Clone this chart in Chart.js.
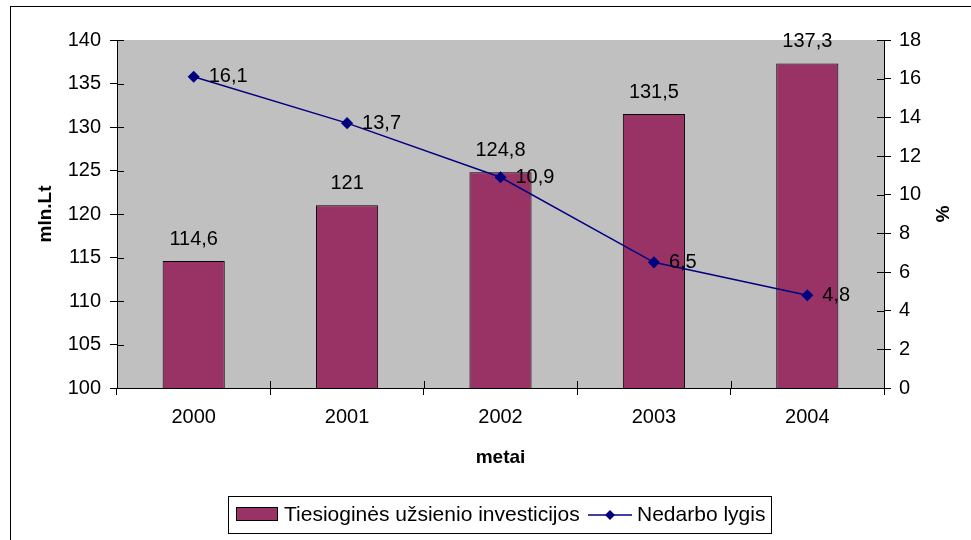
<!DOCTYPE html>
<html>
<head>
<meta charset="utf-8">
<script src="https://cdn.jsdelivr.net/npm/chart.js@4"></script>
<style>
  html, body { margin: 0; padding: 0; background: #fff; }
  #wrap { position: relative; width: 971px; height: 540px; }
</style>
</head>
<body>
<div id="wrap"><canvas id="myChart" width="971" height="540"></canvas></div>
<script>
// data
const years = ['2000', '2001', '2002', '2003', '2004'];
const investicijos = [114.6, 121, 124.8, 131.5, 137.3];
const nedarbas = [16.1, 13.7, 10.9, 6.5, 4.8];
const seriesNames = ['Tiesioginės užsienio investicijos', 'Nedarbo lygis'];

const FONT = '"Liberation Sans", Arial, sans-serif';
const BAR_COLOR = '#993366';
const LINE_COLOR = '#000080';
const PLOT_BG = '#C0C0C0';

const fmt = v => String(v).replace('.', ',');

// grey plot area + outer frame
const backdrop = {
    id: 'backdrop',
    beforeDraw(chart) {
        const { ctx, chartArea: a } = chart;
        ctx.save();
        ctx.fillStyle = '#fff';
        ctx.fillRect(0, 0, chart.width, chart.height);
        ctx.fillStyle = PLOT_BG;
        ctx.fillRect(a.left, a.top, a.right - a.left, a.bottom - a.top);
        ctx.strokeStyle = '#000';
        ctx.lineWidth = 1;
        ctx.strokeRect(10.5, 6.5, 1000, 600);
        ctx.restore();
    }
};

// value labels + inner halves of the crossing ticks
const labels = {
    id: 'labels',
    afterDatasetsDraw(chart) {
        const { ctx, chartArea: a, scales } = chart;
        ctx.save();
        ctx.strokeStyle = '#000';
        ctx.lineWidth = 1;
        ctx.beginPath();
        scales.y.ticks.forEach(t => {
            const py = Math.round(scales.y.getPixelForValue(t.value)) + 0.5;
            ctx.moveTo(a.left, py); ctx.lineTo(a.left + 7, py);
        });
        scales.y1.ticks.forEach(t => {
            const py = Math.round(scales.y1.getPixelForValue(t.value)) + 0.5;
            ctx.moveTo(a.right, py); ctx.lineTo(a.right - 7, py);
        });
        const step = (a.right - a.left) / years.length;
        for (let i = 0; i <= years.length; i++) {
            const px = Math.round(a.left + i * step) + 0.5;
            ctx.moveTo(px, a.bottom); ctx.lineTo(px, a.bottom - 7);
        }
        ctx.stroke();

        ctx.fillStyle = '#000';
        ctx.font = '20px ' + FONT;
        chart.getDatasetMeta(0).data.forEach((bar, i) => {
            ctx.textAlign = 'center';
            ctx.textBaseline = 'alphabetic';
            ctx.fillText(fmt(investicijos[i]), bar.x, bar.y - 16);
        });
        chart.getDatasetMeta(1).data.forEach((pt, i) => {
            ctx.textAlign = 'left';
            ctx.textBaseline = 'middle';
            ctx.fillText(fmt(nedarbas[i]), pt.x + 15, pt.y);
        });
        ctx.restore();
    }
};

// boxed legend under the chart
const boxLegend = {
    id: 'boxLegend',
    afterDraw(chart) {
        const { ctx } = chart;
        ctx.save();
        ctx.strokeStyle = '#000';
        ctx.lineWidth = 1;
        ctx.strokeRect(228.5, 496.5, 543, 37);
        ctx.fillStyle = BAR_COLOR;
        ctx.fillRect(236, 507, 42, 14);
        ctx.strokeRect(236.5, 507.5, 41, 13);
        ctx.fillStyle = '#000';
        ctx.font = '21px ' + FONT;
        ctx.textAlign = 'left';
        ctx.textBaseline = 'middle';
        ctx.fillText(seriesNames[0], 284, 515);
        ctx.strokeStyle = LINE_COLOR;
        ctx.lineWidth = 1.5;
        ctx.beginPath();
        ctx.moveTo(588, 515); ctx.lineTo(632, 515);
        ctx.stroke();
        ctx.fillStyle = LINE_COLOR;
        ctx.beginPath();
        ctx.moveTo(610, 510); ctx.lineTo(615, 515); ctx.lineTo(610, 520); ctx.lineTo(605, 515);
        ctx.closePath();
        ctx.fill();
        ctx.fillStyle = '#000';
        ctx.fillText(seriesNames[1], 637, 515);
        ctx.restore();
    }
};

const data = {
    labels: years,
    datasets: [
        {
            type: 'bar',
            label: seriesNames[0],
            data: investicijos,
            backgroundColor: BAR_COLOR,
            borderColor: '#000',
            borderWidth: 1,
            categoryPercentage: 1,
            barPercentage: 0.405,
            yAxisID: 'y',
            order: 1
        },
        {
            type: 'line',
            label: seriesNames[1],
            data: nedarbas,
            borderColor: LINE_COLOR,
            backgroundColor: LINE_COLOR,
            borderWidth: 1.5,
            pointStyle: 'rectRot',
            pointRadius: 5,
            pointHoverRadius: 5,
            tension: 0,
            yAxisID: 'y1',
            order: 0
        }
    ]
};

const tickFont = { family: FONT, size: 20 };
const titleFont = { family: FONT, size: 19, weight: 'bold' };

const config = {
    type: 'bar',
    data,
    plugins: [backdrop, labels, boxLegend],
    options: {
        responsive: false,
        animation: false,
        devicePixelRatio: 1,
        layout: { padding: { top: 40, left: 0, right: 0, bottom: 0 } },
        plugins: {
            legend: { display: false },
            tooltip: { enabled: false }
        },
        scales: {
            x: {
                offset: true,
                grid: { display: true, offset: true, drawOnChartArea: false, tickLength: 7, color: '#000' },
                border: { display: true, color: '#000', width: 1 },
                ticks: { color: '#000', font: tickFont, padding: 10, maxRotation: 0 },
                title: { display: true, text: 'metai', color: '#000', font: titleFont, padding: { top: 0, bottom: 71 } },
                afterFit(s) { s.height = 152; }
            },
            y: {
                position: 'left',
                min: 100,
                max: 140,
                ticks: { stepSize: 5, color: '#000', font: tickFont, padding: 9 },
                grid: { drawOnChartArea: false, tickLength: 7, color: '#000' },
                border: { display: true, color: '#000', width: 1 },
                title: { display: true, text: 'mln.Lt', color: '#000', font: titleFont, padding: { top: 34, bottom: 0 } },
                afterFit(s) { s.width = 117; }
            },
            y1: {
                position: 'right',
                min: 0,
                max: 18,
                ticks: { stepSize: 2, color: '#000', font: tickFont, padding: 8 },
                grid: { drawOnChartArea: false, tickLength: 7, color: '#000' },
                border: { display: true, color: '#000', width: 1 },
                title: { display: true, text: '%', color: '#000', font: titleFont, padding: { top: 18, bottom: 0 } },
                afterFit(s) { s.width = 87; }
            }
        }
    }
};

const ctx = document.getElementById('myChart');
const myChart = new Chart(ctx, config);
</script>
</body>
</html>
